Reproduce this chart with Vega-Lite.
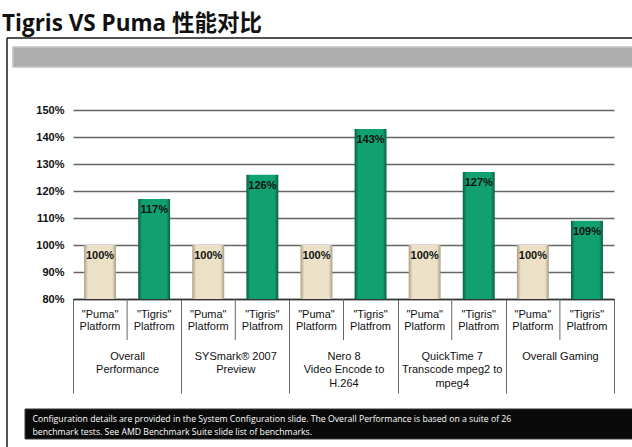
{
  "$schema": "https://vega.github.io/schema/vega-lite/v6.json",
  "width": 541,
  "height": 189,
  "autosize": "none",
  "padding": {"left": 73, "top": 110, "right": 18, "bottom": 148},
  "background": "white",
  "config": {"view": {"stroke": null}, "font": "Liberation Sans"},
  "resolve": {"scale": {"x": "independent", "y": "independent"}, "axis": {"x": "independent", "y": "independent"}},
  "layer": [
    {
      "data": {
        "values": [
          {"bench": "Overall\nPerformance", "platform": "Puma", "plabel": "\"Puma\" Platform", "perf": 1.00},
          {"bench": "Overall\nPerformance", "platform": "Tigris", "plabel": "\"Tigris\" Platfrom", "perf": 1.17},
          {"bench": "SYSmark® 2007\nPreview", "platform": "Puma", "plabel": "\"Puma\" Platform", "perf": 1.00},
          {"bench": "SYSmark® 2007\nPreview", "platform": "Tigris", "plabel": "\"Tigris\" Platfrom", "perf": 1.26},
          {"bench": "Nero 8\nVideo Encode to\nH.264", "platform": "Puma", "plabel": "\"Puma\" Platform", "perf": 1.00},
          {"bench": "Nero 8\nVideo Encode to\nH.264", "platform": "Tigris", "plabel": "\"Tigris\" Platfrom", "perf": 1.43},
          {"bench": "QuickTime 7\nTranscode mpeg2 to\nmpeg4", "platform": "Puma", "plabel": "\"Puma\" Platform", "perf": 1.00},
          {"bench": "QuickTime 7\nTranscode mpeg2 to\nmpeg4", "platform": "Tigris", "plabel": "\"Tigris\" Platfrom", "perf": 1.27},
          {"bench": "Overall Gaming", "platform": "Puma", "plabel": "\"Puma\" Platform", "perf": 1.00},
          {"bench": "Overall Gaming", "platform": "Tigris", "plabel": "\"Tigris\" Platfrom", "perf": 1.09}
        ]
      },
      "layer": [
        {
          "mark": {"type": "bar", "clip": false},
          "encoding": {
            "x": {
              "field": "bench", "type": "nominal", "sort": null,
              "scale": {"paddingInner": 0, "paddingOuter": 0},
              "axis": {
                "title": null,
                "domainColor": "#333333", "domainWidth": 1.5,
                "tickBand": "extent", "tickSize": 94, "tickColor": "#666666", "tickWidth": 1,
                "labelAngle": 0, "labelAlign": "center", "labelBaseline": "top",
                "labelPadding": -43, "labelFont": "Liberation Sans", "labelFontSize": 11,
                "labelColor": "#111111", "labelLineHeight": 13.5,
                "labelExpr": "split(datum.label, '\\n')"
              }
            },
            "xOffset": {"field": "platform", "type": "nominal", "scale": {"paddingInner": 0.41, "paddingOuter": 0.205}},
            "y": {
              "field": "perf", "type": "quantitative",
              "scale": {"domain": [0.8, 1.5], "nice": false, "zero": false},
              "axis": {
                "title": null, "values": [0.8, 0.9, 1.0, 1.1, 1.2, 1.3, 1.4, 1.5], "format": ".0%",
                "domain": false, "ticks": false, "labelPadding": 9,
                "labelFont": "Liberation Sans", "labelFontSize": 11, "labelFontWeight": "bold", "labelColor": "#111111",
                "gridColor": "#666666", "gridWidth": 1.5
              }
            },
            "y2": {"datum": 0.8},
            "fill": {
              "condition": {
                "test": "datum.platform === 'Puma'",
                "value": {"gradient": "linear", "x1": 0, "x2": 1, "y1": 0, "y2": 0, "stops": [
                  {"offset": 0, "color": "#a99f86"}, {"offset": 0.12, "color": "#ece1c7"}, {"offset": 0.88, "color": "#ece1c7"}, {"offset": 1, "color": "#a99f86"}]}
              },
              "value": {"gradient": "linear", "x1": 0, "x2": 1, "y1": 0, "y2": 0, "stops": [
                {"offset": 0, "color": "#0a5e41"}, {"offset": 0.12, "color": "#11a06f"}, {"offset": 0.88, "color": "#11a06f"}, {"offset": 1, "color": "#0a5e41"}]}
            }
          }
        },
        {
          "mark": {"type": "text", "baseline": "top", "dy": 5, "font": "Liberation Sans", "fontSize": 11, "fontWeight": "bold", "color": "#111111"},
          "encoding": {
            "x": {"field": "bench", "type": "nominal", "sort": null},
            "xOffset": {"field": "platform", "type": "nominal"},
            "y": {
              "field": "perf", "type": "quantitative",
              "axis": {
                "title": null, "values": [0.8, 0.9, 1.0, 1.1, 1.2, 1.3, 1.4, 1.5], "format": ".0%",
                "domain": false, "ticks": false, "labelPadding": 9,
                "labelFont": "Liberation Sans", "labelFontSize": 11, "labelFontWeight": "bold", "labelColor": "#111111",
                "gridColor": "#666666", "gridWidth": 1.5
              }
            },
            "text": {"field": "perf", "type": "quantitative", "format": ".0%"}
          }
        },
        {
          "transform": [{"filter": "datum.platform === 'Puma'"}],
          "mark": {"type": "rule", "color": "#666666", "strokeWidth": 1},
          "encoding": {
            "x": {"field": "bench", "type": "nominal", "sort": null, "bandPosition": 0.5},
            "y": {
              "datum": 0.8, "type": "quantitative",
              "axis": {
                "title": null, "values": [0.8, 0.9, 1.0, 1.1, 1.2, 1.3, 1.4, 1.5], "format": ".0%",
                "domain": false, "ticks": false, "labelPadding": 9,
                "labelFont": "Liberation Sans", "labelFontSize": 11, "labelFontWeight": "bold", "labelColor": "#111111",
                "gridColor": "#666666", "gridWidth": 1.5
              }
            },
            "y2": {"datum": 0.648}
          }
        },
        {
          "mark": {"type": "text", "baseline": "top", "lineBreak": " ", "lineHeight": 12.5, "font": "Liberation Sans", "fontSize": 11, "color": "#111111"},
          "encoding": {
            "x": {"field": "bench", "type": "nominal", "sort": null},
            "xOffset": {"field": "platform", "type": "nominal"},
            "y": {
              "datum": 0.763, "type": "quantitative",
              "axis": {
                "title": null, "values": [0.8, 0.9, 1.0, 1.1, 1.2, 1.3, 1.4, 1.5], "format": ".0%",
                "domain": false, "ticks": false, "labelPadding": 9,
                "labelFont": "Liberation Sans", "labelFontSize": 11, "labelFontWeight": "bold", "labelColor": "#111111",
                "gridColor": "#666666", "gridWidth": 1.5
              }
            },
            "text": {"field": "plabel"}
          }
        }
      ]
    },
    {
      "data": {"values": [{}]},
      "layer": [
        {
          "mark": {"type": "rule", "color": "#1a1a1a", "strokeWidth": 1.5},
          "encoding": {
            "x": {"datum": -12.2, "type": "quantitative", "scale": {"domain": [0, 100], "nice": false, "zero": false}, "axis": null},
            "x2": {"datum": 105},
            "y": {"datum": 1.7667, "type": "quantitative", "scale": {"domain": [0.8, 1.5], "nice": false, "zero": false}, "axis": null}
          }
        },
        {
          "mark": {"type": "rule", "color": "#1a1a1a", "strokeWidth": 1.5},
          "encoding": {
            "x": {"datum": -12.2, "type": "quantitative", "axis": null},
            "y": {"datum": 1.7667, "type": "quantitative", "axis": null},
            "y2": {"datum": 0.2}
          }
        },
        {
          "mark": {"type": "rect", "color": "#adadad", "stroke": "#c4c4c4", "strokeWidth": 1.5},
          "encoding": {
            "x": {"datum": -11.09, "type": "quantitative", "axis": null},
            "x2": {"datum": 105},
            "y": {"datum": 1.733, "type": "quantitative", "axis": null},
            "y2": {"datum": 1.659}
          }
        },
        {
          "mark": {"type": "rect", "color": "#0a0a0a", "stroke": "#3a3a3a", "strokeWidth": 1},
          "encoding": {
            "x": {"datum": -8.87, "type": "quantitative", "axis": null},
            "x2": {"datum": 105},
            "y": {"datum": 0.3926, "type": "quantitative", "axis": null},
            "y2": {"datum": 0.2815}
          }
        },
        {
          "mark": {"type": "text", "align": "left", "baseline": "top", "color": "white", "font": "Open Sans", "fontSize": 8.7, "lineHeight": 13},
          "encoding": {
            "x": {"datum": -7.49, "type": "quantitative", "axis": null},
            "y": {"datum": 0.372, "type": "quantitative", "axis": null},
            "text": {"value": ["Configuration details are provided in the System Configuration slide.  The Overall Performance is based on a suite of 26", "benchmark tests.   See AMD Benchmark Suite slide list of benchmarks."]}
          }
        },
        {
          "mark": {"type": "text", "align": "left", "baseline": "alphabetic", "color": "#111111", "font": "Open Sans, Noto Sans CJK SC", "fontSize": 22.5, "fontWeight": "bold"},
          "encoding": {
            "x": {"datum": -13.12, "type": "quantitative", "axis": null},
            "y": {"datum": 1.7926, "type": "quantitative", "axis": null},
            "text": {"value": "Tigris VS Puma 性能对比"}
          }
        }
      ]
    }
  ]
}
